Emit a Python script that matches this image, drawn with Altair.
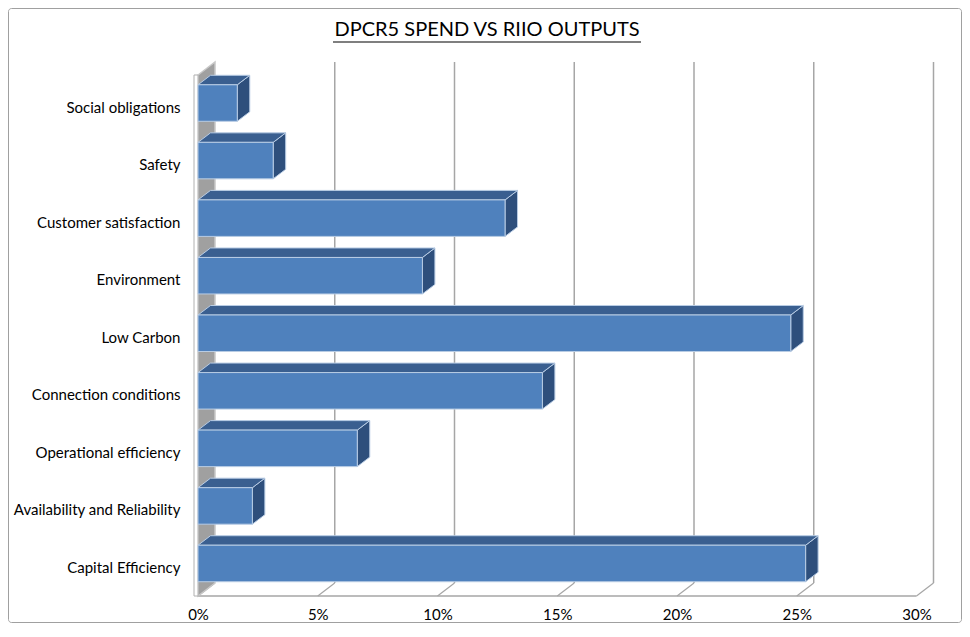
import json
import altair as alt
import pandas as pd

# ---------------- data ----------------
categories = [
    "Social obligations",
    "Safety",
    "Customer satisfaction",
    "Environment",
    "Low Carbon",
    "Connection conditions",
    "Operational efficiency",
    "Availability and Reliability",
    "Capital Efficiency",
]
values = [0.0164, 0.0314, 0.1282, 0.0937, 0.2475, 0.1438, 0.0665, 0.0227, 0.2537]
tick_values = [0.0, 0.05, 0.10, 0.15, 0.20, 0.25, 0.30]
title_text = "DPCR5 SPEND VS RIIO OUTPUTS"

# ---------------- geometry / style ----------------
FONT = "Lato"
PLOT_W, PLOT_H = 740, 534
PX_X = 2395.0              # px per unit of share
X_MAX = PLOT_W / PX_X
PX_Y = 57.56               # px per category step
Y_FLOOR, Y_TOP = -0.565, 8.713
DX, DY = 17 / PX_X, 13 / PX_Y          # wall / floor depth
BDX, BDY = 12.5 / PX_X, 9.5 / PX_Y     # bar depth
HALF = 18.25 / PX_Y                    # half bar height
AX_MAX = tick_values[-1]

FRONT = "#4F81BD"
TOP = "#3A5F90"
SIDE = "#2E4F7C"
EDGE = "#B8CCE4"
GRID = "#A6A6A6"

n = len(categories)
bars = pd.DataFrame({
    "cat": categories,
    "value": values,
    "idx": [n - 1 - k for k in range(n)],
})
bars["y0"] = bars["idx"] - HALF
bars["y1"] = bars["idx"] + HALF
bars["x0"] = 0.0

rows = []
for _, r in bars.iterrows():
    v, t, b = r["value"], r["y1"], r["y0"]
    top_pts = [(0, t), (v, t), (v + BDX, t + BDY), (BDX, t + BDY)]
    side_pts = [(v, b), (v, t), (v + BDX, t + BDY), (v + BDX, b + BDY)]
    for o, (x, y) in enumerate(top_pts):
        rows.append({"cat": r["cat"], "face": "top", "o": o, "x": x, "y": y})
    for o, (x, y) in enumerate(side_pts):
        rows.append({"cat": r["cat"], "face": "side", "o": o, "x": x, "y": y})
faces = pd.DataFrame(rows)

grid = pd.DataFrame({"t": tick_values})
grid["xb"] = grid["t"] + DX
grid["yf"] = Y_FLOOR
grid["yb"] = Y_FLOOR + DY
grid["ytop"] = Y_TOP

wall_pts = [(0, Y_FLOOR), (DX, Y_FLOOR + DY), (DX, Y_TOP), (0, Y_TOP - DY)]
wall = pd.DataFrame({"o": range(4), "x": [p[0] for p in wall_pts], "y": [p[1] for p in wall_pts]})

xs = alt.Scale(domain=[0, X_MAX], nice=False, zero=False)
ys = alt.Scale(domain=[Y_FLOOR, Y_TOP], nice=False, zero=False)

label_lookup = json.dumps([categories[n - 1 - i] for i in range(n)])

X_AXIS = alt.Axis(
    values=tick_values, format=".0%", grid=False, domain=False, ticks=False,
    labelPadding=11, labelFontSize=15, labelFont=FONT, labelColor="#000000",
    title=None, labelFlush=False, zindex=2,
)
Y_AXIS = alt.Axis(
    values=list(range(n)), labelExpr=f"{label_lookup}[datum.value]",
    grid=False, domain=False, ticks=False, labelPadding=18, labelOffset=4,
    labelFontSize=15, labelFont=FONT, labelColor="#000000", title=None, zindex=2,
)


def X(field):
    return alt.X(field, scale=xs, axis=X_AXIS)


def Y(field):
    return alt.Y(field, scale=ys, axis=Y_AXIS)


# frame
frame = alt.Chart(pd.DataFrame({"a": [0]})).mark_rect(
    fillOpacity=0, stroke="#A0A0A0", strokeWidth=1, cornerRadius=3
).encode(
    x=alt.value(-189.5), x2=alt.value(PLOT_W + 23.5),
    y=alt.value(-53.5), y2=alt.value(PLOT_H + 26.5),
)

# back grid lines
back_grid = alt.Chart(grid[grid["t"] > 0]).mark_rule(color=GRID, strokeWidth=1.5).encode(
    x=X("xb:Q"), y=Y("ytop:Q"), y2="yb:Q",
)

# floor diagonals
floor_diag = alt.Chart(grid).mark_rule(color=GRID, strokeWidth=1.2).encode(
    x=X("t:Q"), x2="xb:Q", y=Y("yf:Q"), y2="yb:Q",
)

floor_front = alt.Chart(pd.DataFrame({"a": [0.0], "b": [AX_MAX], "y": [Y_FLOOR]})).mark_rule(
    color=GRID, strokeWidth=1.5
).encode(x=X("a:Q"), x2="b:Q", y=Y("y:Q"))

# left wall
wall_layer = alt.Chart(wall).mark_line(
    fill="#A0A0A0", stroke="#C8C8C8", strokeWidth=1.5, interpolate="linear-closed"
).encode(x=X("x:Q"), y=Y("y:Q"), order="o:Q")

wall_front = alt.Chart(
    pd.DataFrame({"a": [-4 / PX_X], "b": [0.0], "y0": [Y_FLOOR], "y1": [Y_TOP - DY]})
).mark_rect(fill="#FFFFFF", stroke="#B0B0B0", strokeWidth=1).encode(
    x=X("a:Q"), x2="b:Q", y=Y("y0:Q"), y2="y1:Q",
)

# bars
front = alt.Chart(bars).mark_rect(fill=FRONT, stroke=EDGE, strokeWidth=1).encode(
    x=X("x0:Q"), x2="value:Q", y=Y("y0:Q"), y2="y1:Q",
)

top_faces = alt.Chart(faces[faces["face"] == "top"]).mark_line(
    fill=TOP, stroke=EDGE, strokeWidth=1, interpolate="linear-closed"
).encode(x=X("x:Q"), y=Y("y:Q"), detail="cat:N", order="o:Q")

side_faces = alt.Chart(faces[faces["face"] == "side"]).mark_line(
    fill=SIDE, stroke=EDGE, strokeWidth=1, interpolate="linear-closed"
).encode(x=X("x:Q"), y=Y("y:Q"), detail="cat:N", order="o:Q")

title = alt.Chart(pd.DataFrame({"t": [title_text]})).mark_text(
    font=FONT, fontSize=20, color="#000000", align="center", baseline="middle"
).encode(x=alt.value(289), y=alt.value(-32), text="t:N")

underline = alt.Chart(pd.DataFrame({"a": [0]})).mark_rule(color="#000000", strokeWidth=1.2).encode(
    x=alt.value(135), x2=alt.value(443), y=alt.value(-20)
)

chart = alt.layer(
    frame, back_grid, floor_diag, floor_front, wall_layer, wall_front,
    side_faces, top_faces, front, title, underline,
).properties(
    width=PLOT_W, height=PLOT_H,
    autosize=alt.AutoSizeParams(type="none"),
    padding={"left": 190, "top": 54, "right": 24, "bottom": 28},
    background="white",
).configure_view(stroke=None)

chart.save("out.html", embed_options={"renderer": "svg", "actions": False})
